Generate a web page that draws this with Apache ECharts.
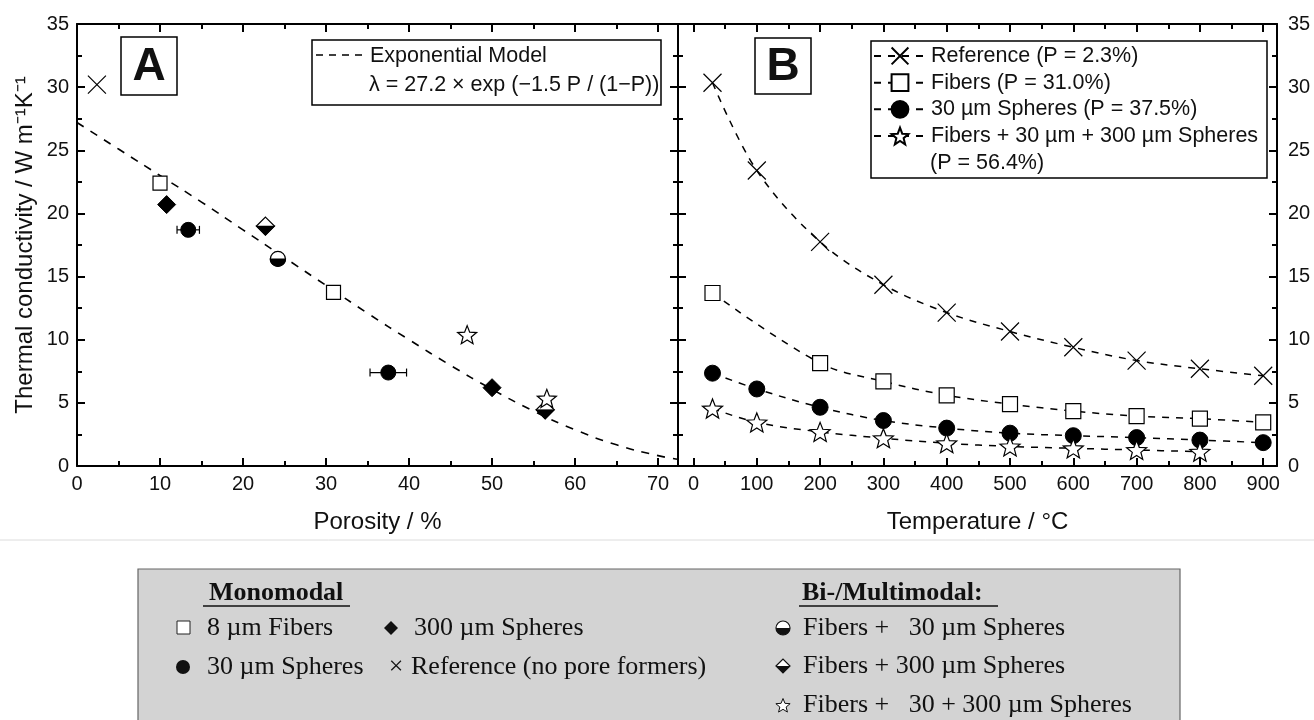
<!DOCTYPE html>
<html><head><meta charset="utf-8">
<script src="https://cdn.jsdelivr.net/npm/echarts@6/dist/echarts.min.js"></script>
<style>html,body{margin:0;padding:0;background:#fff}#c{width:1314px;height:720px}</style>
</head><body><div id="c"></div>
<script>
// ---------- Panel A: thermal conductivity vs porosity ----------
const refA = [[2.4, 30.2]];
const fibersA = [[10.0, 22.4], [30.9, 13.75]];
const spheres30A = [[13.4, 18.7], [37.5, 7.4]];
const spheres30ErrA = [1.35, 2.2];
const spheres300A = [[10.8, 20.7], [50.0, 6.2]];
const fibers30A = [[24.2, 16.4]];
const fibers300A = [[22.7, 19.0], [56.4, 4.45]];
const fibersMultiA = [[47.0, 10.4], [56.6, 5.35]];
const modelPorosity = [0, 5, 10, 15, 20, 25, 30, 35, 40, 45, 50, 55, 60, 65, 70, 72.4];
const modelLambda = [27.2, 25.1, 23.0, 20.9, 18.7, 16.5, 14.3, 12.1, 10.0, 7.97, 6.07, 4.35, 2.87, 1.68, 0.82, 0.53];

// ---------- Panel B: thermal conductivity vs temperature ----------
const temps = [30, 100, 200, 300, 400, 500, 600, 700, 800, 900];
const refB = [30.35, 23.4, 17.75, 14.35, 12.15, 10.65, 9.4, 8.35, 7.7, 7.15];
const fibersB = [13.7, null, 8.15, 6.7, 5.6, 4.9, 4.35, 3.95, 3.75, 3.45];
const spheresB = [7.35, 6.1, 4.65, 3.6, 3.0, 2.6, 2.4, 2.25, 2.05, 1.85];
const multiB = [4.55, 3.45, 2.7, 2.2, 1.8, 1.55, 1.4, 1.27, 1.13, null];

// ---------- tick labels ----------
const xTicksA = [0, 10, 20, 30, 40, 50, 60, 70];
const xMinorA = [5, 15, 25, 35, 45, 55, 65];
const xTicksB = [0, 100, 200, 300, 400, 500, 600, 700, 800, 900];
const xMinorB = [50, 150, 250, 350, 450, 550, 650, 750, 850];

const namesB = ['Reference (P = 2.3%)', 'Fibers (P = 31.0%)', '30 µm Spheres (P = 37.5%)', 'Fibers + 30 µm + 300 µm Spheres'];

const FONT = 'Liberation Sans, Arial, Helvetica, sans-serif';
const SERIF = 'Liberation Serif, Times New Roman, serif';

function pairs(xs, ys) { const out = []; xs.forEach((x, i) => { if (ys[i] != null) out.push([x, ys[i]]); }); return out; }
function starPts(cx, cy, R, r) {
  const pts = [];
  for (let i = 0; i < 10; i++) {
    const a = -Math.PI / 2 + i * Math.PI / 5, rad = i % 2 ? r : R;
    pts.push([cx + rad * Math.cos(a), cy + rad * Math.sin(a)]);
  }
  return pts;
}
function starPath(R, r) {
  return starPts(R, R, R, r).map((p, i) => (i ? 'L' : 'M') + p[0].toFixed(2) + ',' + p[1].toFixed(2)).join('') + 'Z';
}
function halfDiscPath() {
  let s = 'M20,10';
  for (let i = 1; i <= 16; i++) { const a = i * Math.PI / 16; s += 'L' + (10 + 10 * Math.cos(a)).toFixed(2) + ',' + (10 + 10 * Math.sin(a)).toFixed(2); }
  return 'path://' + s + 'Z';
}
const STAR = 'path://' + starPath(10, 4.3);
const CROSS = 'path://M0,0L20,20M20,0L0,20';
const HALFDISC = halfDiscPath();
const LOWERTRI = 'path://M0,0L20,0L10,10Z';

const tickLine = { color: '#000', width: 2 };
function makeX(gridIndex, min, max, position, ticks, len, opts) {
  opts = opts || {};
  return {
    type: 'value', gridIndex, min, max, position,
    axisLine: { show: !!opts.line, onZero: false, lineStyle: { color: '#000', width: 2 } },
    axisTick: { show: true, inside: true, length: len, customValues: ticks, lineStyle: tickLine },
    axisLabel: { show: !!opts.labels, customValues: ticks, margin: 8, color: '#111', fontFamily: FONT, fontSize: 20 },
    splitLine: { show: false }, minorTick: { show: false },
    name: opts.name || '', nameLocation: 'middle', nameGap: 44,
    nameTextStyle: { fontFamily: FONT, fontSize: 24, color: '#111' }
  };
}
function makeY(gridIndex, position, labels, extra) {
  return Object.assign({
    type: 'value', gridIndex, min: 0, max: 35, interval: 5, position,
    axisLine: { show: true, onZero: false, lineStyle: { color: '#000', width: 2 } },
    axisTick: { show: true, inside: true, length: 8, lineStyle: tickLine },
    minorTick: { show: true, splitNumber: 2, length: 5, lineStyle: tickLine },
    axisLabel: { show: labels, margin: position === 'right' ? 11 : 8, color: '#111', fontFamily: FONT, fontSize: 20 },
    splitLine: { show: false }, minorSplitLine: { show: false }
  }, extra || {});
}

const openItem = { color: '#fff', borderColor: '#000', borderWidth: 1.2, opacity: 1 };
const fillItem = { color: '#000', borderColor: '#000', borderWidth: 1, opacity: 1 };
const lineB = { color: '#000', width: 1.5, type: [7, 7] };

const option = {
  animation: false,
  backgroundColor: '#fff',
  grid: [
    { left: 77, top: 24, width: 601, height: 442 },
    { left: 678, top: 24, width: 599, height: 442 }
  ],
  xAxis: [
    makeX(0, 0, 72.4, 'bottom', xTicksA, 8, { line: true, labels: true, name: 'Porosity / %' }),
    makeX(0, 0, 72.4, 'bottom', xMinorA, 5),
    makeX(0, 0, 72.4, 'top', xTicksA, 8, { line: true }),
    makeX(0, 0, 72.4, 'top', xMinorA, 5),
    makeX(1, -24.5, 921.8, 'bottom', xTicksB, 8, { line: true, labels: true, name: 'Temperature / °C' }),
    makeX(1, -24.5, 921.8, 'bottom', xMinorB, 5),
    makeX(1, -24.5, 921.8, 'top', xTicksB, 8, { line: true }),
    makeX(1, -24.5, 921.8, 'top', xMinorB, 5)
  ],
  yAxis: [
    makeY(0, 'left', true, {
      name: 'Thermal conductivity / W m⁻¹K⁻¹', nameLocation: 'middle', nameRotate: 90, nameGap: 40,
      nameTextStyle: { fontFamily: FONT, fontSize: 24, color: '#111' }
    }),
    makeY(0, 'right', false),
    makeY(1, 'left', false),
    makeY(1, 'right', true)
  ],
  legend: {
    data: namesB, orient: 'vertical', left: 873, top: 42.6, padding: 0, itemGap: 0,
    itemWidth: 52, itemHeight: 21, selectedMode: false,
    textStyle: { fontFamily: FONT, fontSize: 21.5, color: '#111', lineHeight: 26.7 }
  },
  series: [
    { name: 'Exponential Model', type: 'line', xAxisIndex: 0, yAxisIndex: 0, data: pairs(modelPorosity, modelLambda),
      smooth: true, symbol: 'none', lineStyle: { color: '#000', width: 1.6, type: [8, 8] }, z: 1, silent: true },
    { name: 'errA', type: 'custom', xAxisIndex: 0, yAxisIndex: 0, z: 2,
      data: spheres30A.map((p, i) => [p[0], p[1], spheres30ErrA[i]]), encode: { x: 0, y: 1 },
      renderItem: (params, api) => {
        const x = api.value(0), y = api.value(1), e = api.value(2);
        const a = api.coord([x - e, y]), b = api.coord([x + e, y]);
        const st = { stroke: '#000', lineWidth: 1.2 };
        return { type: 'group', children: [
          { type: 'line', shape: { x1: a[0], y1: a[1], x2: b[0], y2: b[1] }, style: st },
          { type: 'line', shape: { x1: a[0], y1: a[1] - 4, x2: a[0], y2: a[1] + 4 }, style: st },
          { type: 'line', shape: { x1: b[0], y1: b[1] - 4, x2: b[0], y2: b[1] + 4 }, style: st }
        ] };
      } },
    { name: 'refA', type: 'scatter', xAxisIndex: 0, yAxisIndex: 0, data: refA, symbol: CROSS, symbolSize: 18, itemStyle: openItem, z: 3 },
    { name: 'fibersA', type: 'scatter', xAxisIndex: 0, yAxisIndex: 0, data: fibersA, symbol: 'rect', symbolSize: 14, itemStyle: openItem, z: 3 },
    { name: 'spheres30A', type: 'scatter', xAxisIndex: 0, yAxisIndex: 0, data: spheres30A, symbol: 'circle', symbolSize: 15, itemStyle: fillItem, z: 3 },
    { name: 'spheres300A', type: 'scatter', xAxisIndex: 0, yAxisIndex: 0, data: spheres300A, symbol: 'diamond', symbolSize: [18, 18], itemStyle: fillItem, z: 3 },
    { name: 'fibers30A', type: 'scatter', xAxisIndex: 0, yAxisIndex: 0, data: fibers30A, symbol: 'circle', symbolSize: 15, itemStyle: openItem, z: 3 },
    { name: 'fibers30A-fill', type: 'scatter', xAxisIndex: 0, yAxisIndex: 0, data: fibers30A, symbol: HALFDISC, symbolSize: [15, 7.5], symbolOffset: [0, 3.75], itemStyle: fillItem, z: 4 },
    { name: 'fibers300A', type: 'scatter', xAxisIndex: 0, yAxisIndex: 0, data: fibers300A, symbol: 'diamond', symbolSize: [18, 18], itemStyle: openItem, z: 3 },
    { name: 'fibers300A-fill', type: 'scatter', xAxisIndex: 0, yAxisIndex: 0, data: fibers300A, symbol: LOWERTRI, symbolSize: [18, 9], symbolOffset: [0, 4.5], itemStyle: fillItem, z: 4 },
    { name: 'multiA', type: 'scatter', xAxisIndex: 0, yAxisIndex: 0, data: fibersMultiA, symbol: STAR, symbolSize: 19, symbolKeepAspect: true, itemStyle: openItem, z: 5 },

    { name: namesB[0], type: 'line', xAxisIndex: 4, yAxisIndex: 2, data: pairs(temps, refB), smooth: 0.35,
      symbol: CROSS, symbolSize: 18, showAllSymbol: true, itemStyle: openItem, lineStyle: lineB, z: 3 },
    { name: namesB[1], type: 'line', xAxisIndex: 4, yAxisIndex: 2, data: pairs(temps, fibersB), smooth: 0.35,
      symbol: 'rect', symbolSize: 15, showAllSymbol: true, itemStyle: openItem, lineStyle: lineB, z: 3 },
    { name: namesB[2], type: 'line', xAxisIndex: 4, yAxisIndex: 2, data: pairs(temps, spheresB), smooth: 0.35,
      symbol: 'circle', symbolSize: 16, showAllSymbol: true, itemStyle: fillItem, lineStyle: lineB, z: 3 },
    { name: namesB[3], type: 'line', xAxisIndex: 4, yAxisIndex: 2, data: pairs(temps, multiB), smooth: 0.35,
      symbol: STAR, symbolSize: 20, symbolKeepAspect: true, showAllSymbol: true, itemStyle: openItem, lineStyle: lineB, z: 4 }
  ],
  graphic: [
    // panel labels
    { type: 'rect', shape: { x: 121, y: 37, width: 56, height: 58 }, style: { fill: '#fff', stroke: '#000', lineWidth: 1.5 }, z: 10 },
    { type: 'text', x: 149, y: 67, style: { text: 'A', font: 'bold 46px ' + FONT, fill: '#111', align: 'center', verticalAlign: 'middle' }, z: 11 },
    { type: 'rect', shape: { x: 755, y: 38, width: 56, height: 56 }, style: { fill: '#fff', stroke: '#000', lineWidth: 1.5 }, z: 10 },
    { type: 'text', x: 783, y: 67, style: { text: 'B', font: 'bold 46px ' + FONT, fill: '#111', align: 'center', verticalAlign: 'middle' }, z: 11 },
    // legend A
    { type: 'rect', shape: { x: 312, y: 40, width: 349, height: 65 }, style: { fill: '#fff', stroke: '#000', lineWidth: 1.5 }, z: 10 },
    { type: 'line', shape: { x1: 316, y1: 55, x2: 363, y2: 55 }, style: { stroke: '#000', lineWidth: 1.6, lineDash: [7, 6] }, z: 11 },
    { type: 'text', x: 370, y: 56, style: { text: 'Exponential Model', font: '21.5px ' + FONT, fill: '#111', align: 'left', verticalAlign: 'middle' }, z: 11 },
    { type: 'text', x: 369, y: 85, style: { text: 'λ = 27.2 × exp (−1.5 P / (1−P))', font: '21.5px ' + FONT, fill: '#111', align: 'left', verticalAlign: 'middle' }, z: 11 },
    // legend B frame and second line
    { type: 'rect', shape: { x: 871, y: 41, width: 396, height: 137 }, style: { fill: 'none', stroke: '#000', lineWidth: 1.5 }, z: 10 },
    { type: 'text', x: 930, y: 163, style: { text: '(P = 56.4%)', font: '21.5px ' + FONT, fill: '#111', align: 'left', verticalAlign: 'middle' }, z: 11 },
    // separator
    { type: 'line', shape: { x1: 0, y1: 540, x2: 1314, y2: 540 }, style: { stroke: '#dcdcdc', lineWidth: 1 } },
    // bottom key box
    { type: 'rect', shape: { x: 138, y: 569, width: 1042, height: 170 }, style: { fill: '#d3d3d3', stroke: '#666', lineWidth: 1.2 } },
    { type: 'text', x: 209, y: 593, style: { text: 'Monomodal', font: 'bold 26px ' + SERIF, fill: '#111', align: 'left', verticalAlign: 'middle' }, z: 2 },
    { type: 'line', shape: { x1: 203, y1: 606, x2: 350, y2: 606 }, style: { stroke: '#111', lineWidth: 1.3 }, z: 2 },
    { type: 'text', x: 802, y: 593, style: { text: 'Bi-/Multimodal:', font: 'bold 26px ' + SERIF, fill: '#111', align: 'left', verticalAlign: 'middle' }, z: 2 },
    { type: 'line', shape: { x1: 799, y1: 606, x2: 998, y2: 606 }, style: { stroke: '#111', lineWidth: 1.3 }, z: 2 },
    // monomodal markers
    { type: 'rect', shape: { x: 177, y: 621, width: 13, height: 13 }, style: { fill: '#fff', stroke: '#222', lineWidth: 1 }, z: 2 },
    { type: 'text', x: 207, y: 628, style: { text: '8 µm Fibers', font: '26px ' + SERIF, fill: '#111', align: 'left', verticalAlign: 'middle' }, z: 2 },
    { type: 'polygon', shape: { points: [[391, 621], [398, 628], [391, 635], [384, 628]] }, style: { fill: '#111' }, z: 2 },
    { type: 'text', x: 414, y: 628, style: { text: '300 µm Spheres', font: '26px ' + SERIF, fill: '#111', align: 'left', verticalAlign: 'middle' }, z: 2 },
    { type: 'circle', shape: { cx: 183, cy: 667, r: 7 }, style: { fill: '#111' }, z: 2 },
    { type: 'text', x: 207, y: 667, style: { text: '30 µm Spheres', font: '26px ' + SERIF, fill: '#111', align: 'left', verticalAlign: 'middle' }, z: 2 },
    { type: 'text', x: 396, y: 667, style: { text: '×', font: '26px ' + SERIF, fill: '#111', align: 'center', verticalAlign: 'middle' }, z: 2 },
    { type: 'text', x: 411, y: 667, style: { text: 'Reference (no pore formers)', font: '26px ' + SERIF, fill: '#111', align: 'left', verticalAlign: 'middle' }, z: 2 },
    // bi-/multimodal markers
    { type: 'circle', shape: { cx: 783, cy: 628, r: 7 }, style: { fill: '#fff', stroke: '#111', lineWidth: 1.2 }, z: 2 },
    { type: 'sector', shape: { cx: 783, cy: 628, r: 7, r0: 0, startAngle: 0, endAngle: Math.PI, clockwise: true }, style: { fill: '#111' }, z: 3 },
    { type: 'text', x: 803, y: 628, style: { text: 'Fibers +   30 µm Spheres', font: '26px ' + SERIF, fill: '#111', align: 'left', verticalAlign: 'middle' }, z: 2 },
    { type: 'polygon', shape: { points: [[776, 666], [783, 659], [790, 666], [783, 673]] }, style: { fill: '#fff', stroke: '#111', lineWidth: 1.2 }, z: 2 },
    { type: 'polygon', shape: { points: [[776, 666], [790, 666], [783, 673]] }, style: { fill: '#111' }, z: 3 },
    { type: 'text', x: 803, y: 666, style: { text: 'Fibers + 300 µm Spheres', font: '26px ' + SERIF, fill: '#111', align: 'left', verticalAlign: 'middle' }, z: 2 },
    { type: 'polygon', shape: { points: starPts(783, 706, 7.5, 3.3) }, style: { fill: '#fff', stroke: '#111', lineWidth: 1 }, z: 2 },
    { type: 'text', x: 803, y: 705, style: { text: 'Fibers +   30 + 300 µm Spheres', font: '26px ' + SERIF, fill: '#111', align: 'left', verticalAlign: 'middle' }, z: 2 }
  ]
};

const chart = echarts.init(document.getElementById('c'), null, { renderer: 'canvas' });
chart.setOption(option);
</script>
</body></html>
